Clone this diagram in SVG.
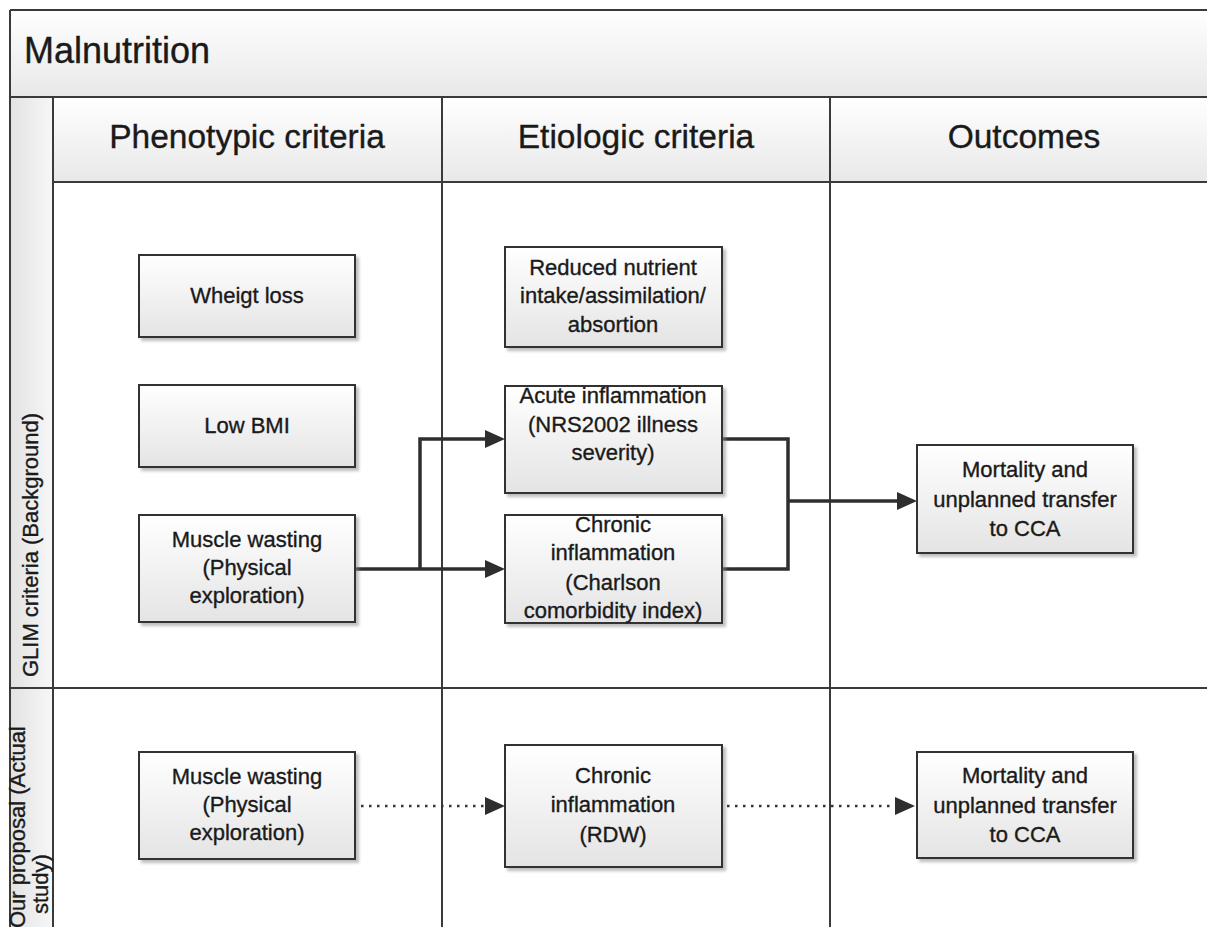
<svg xmlns="http://www.w3.org/2000/svg" width="1207" height="927" viewBox="0 0 1207 927">
<defs>
<style>
text{font-family:"Liberation Sans",Arial,sans-serif;fill:#1a1a1a;stroke:#1a1a1a;stroke-width:0.35;}
.t{font-size:22px;text-anchor:middle;}
.h{font-size:33.5px;text-anchor:middle;}
.lane{font-size:22px;}
.frame{stroke:#3a3a3a;stroke-width:2;fill:none;}
.box{fill:url(#boxg);stroke:#333;stroke-width:2;filter:url(#sh);}
.conn{stroke:#2e2e2e;stroke-width:3.5;fill:none;marker-end:url(#ah);}
.plain{stroke:#2e2e2e;stroke-width:3.5;fill:none;}
.dot{stroke:#333;stroke-width:2.5;fill:none;stroke-dasharray:2.5 5.5;marker-end:url(#ah);}
</style>
<linearGradient id="boxg" x1="0" y1="0" x2="0" y2="1"><stop offset="0" stop-color="#ffffff"/><stop offset="1" stop-color="#e4e4e4"/></linearGradient>
<linearGradient id="hdrg" x1="0" y1="0" x2="0" y2="1"><stop offset="0" stop-color="#ffffff"/><stop offset="1" stop-color="#e8e8e8"/></linearGradient>
<linearGradient id="laneg" x1="0" y1="0" x2="1" y2="0"><stop offset="0" stop-color="#e2e2e2"/><stop offset="1" stop-color="#f7f7f7"/></linearGradient>
<filter id="sh" x="-10%" y="-10%" width="125%" height="130%"><feDropShadow dx="3" dy="3" stdDeviation="1.5" flood-color="#888" flood-opacity="0.55"/></filter>
<marker id="ah" viewBox="0 0 20 18" refX="8" refY="9" markerWidth="20" markerHeight="18" markerUnits="userSpaceOnUse" orient="auto"><path d="M0,0 L20,9 L0,18 z" fill="#2e2e2e"/></marker>
</defs>
<rect x="0" y="0" width="1207" height="927" fill="#ffffff"/>

<g id="pool">
<rect x="10" y="10" width="1210" height="87" fill="url(#hdrg)"/>
<rect x="53" y="97" width="389" height="85" fill="url(#hdrg)"/>
<rect x="442" y="97" width="388" height="85" fill="url(#hdrg)"/>
<rect x="830" y="97" width="390" height="85" fill="url(#hdrg)"/>
<rect x="10" y="97" width="43" height="840" fill="url(#laneg)"/>
<path class="frame" d="M10,10 H1220 M10,10 V940 M10,97 H1220 M53,97 V940 M53,182 H1220 M442,97 V940 M830,97 V940 M10,688 H1220"/>
<text x="24" y="63" style="font-size:36px">Malnutrition</text>
</g>

<g id="col-phenotypic"><text class="h" x="247" y="148">Phenotypic criteria</text></g>
<g id="col-etiologic"><text class="h" x="636" y="148">Etiologic criteria</text></g>
<g id="col-outcomes"><text class="h" x="1024" y="148">Outcomes</text></g>
<g id="lane-glim"><text class="lane" text-anchor="middle" transform="translate(38,545) rotate(-90)">GLIM criteria (Background)</text></g>
<g id="lane-proposal">
<text class="lane" transform="translate(25,928) rotate(-90)">Our proposal (Actual</text>
<text class="lane" transform="translate(48,914) rotate(-90)">study)</text>
</g>

<g id="connectors">
<path class="conn" d="M355,569 H493"/>
<path class="conn" d="M420,569 V439 H493"/>
<path class="plain" d="M722,439 H788 V569 H722"/>
<path class="conn" d="M788,501 H905"/>
<path class="dot" d="M361,806 H493"/>
<path class="dot" d="M727,806 H903"/>
</g>

<g id="n-weight"><rect class="box" x="139" y="255" width="216" height="82"/><text class="t" x="247" y="303">Wheigt loss</text></g>
<g id="n-bmi"><rect class="box" x="139" y="385" width="216" height="82"/><text class="t" x="247" y="433">Low BMI</text></g>
<g id="n-muscle1"><rect class="box" x="139" y="515" width="216" height="107"/><text class="t" x="247" y="547">Muscle wasting</text><text class="t" x="247" y="575">(Physical</text><text class="t" x="247" y="603">exploration)</text></g>
<g id="n-reduced"><rect class="box" x="505" y="247" width="217" height="100"/><text class="t" x="613" y="275">Reduced nutrient</text><text class="t" x="613" y="303">intake/assimilation/</text><text class="t" x="613" y="332">absortion</text></g>
<g id="n-acute"><rect class="box" x="505" y="386" width="217" height="107"/><text class="t" x="613" y="403">Acute inflammation</text><text class="t" x="613" y="432">(NRS2002 illness</text><text class="t" x="613" y="460">severity)</text></g>
<g id="n-chronic1"><rect class="box" x="505" y="515" width="217" height="108"/><text class="t" x="613" y="532">Chronic</text><text class="t" x="613" y="560">inflammation</text><text class="t" x="613" y="590">(Charlson</text><text class="t" x="613" y="618">comorbidity index)</text></g>
<g id="n-mortality1"><rect class="box" x="917" y="445" width="216" height="108"/><text class="t" x="1025" y="477">Mortality and</text><text class="t" x="1025" y="507">unplanned transfer</text><text class="t" x="1025" y="536">to CCA</text></g>
<g id="n-muscle2"><rect class="box" x="139" y="752" width="216" height="107"/><text class="t" x="247" y="784">Muscle wasting</text><text class="t" x="247" y="812">(Physical</text><text class="t" x="247" y="840">exploration)</text></g>
<g id="n-chronic2"><rect class="box" x="505" y="745" width="217" height="122"/><text class="t" x="613" y="783">Chronic</text><text class="t" x="613" y="812">inflammation</text><text class="t" x="613" y="842">(RDW)</text></g>
<g id="n-mortality2"><rect class="box" x="917" y="752" width="216" height="106"/><text class="t" x="1025" y="783">Mortality and</text><text class="t" x="1025" y="813">unplanned transfer</text><text class="t" x="1025" y="842">to CCA</text></g>
</svg>
